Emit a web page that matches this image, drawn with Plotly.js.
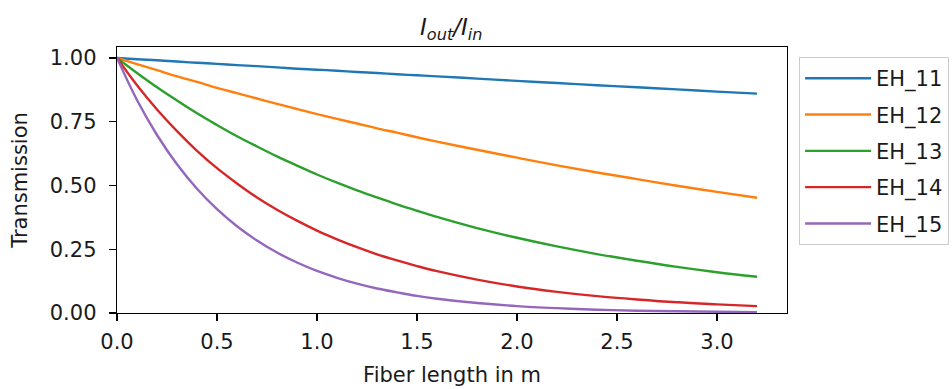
<!DOCTYPE html>
<html>
<head>
<meta charset="utf-8">
<script src="https://cdn.plot.ly/plotly-3.0.1.min.js"></script>
<style>
  html, body { margin: 0; padding: 0; background: #ffffff; }
  #chart { width: 952px; height: 389px; }
</style>
</head>
<body>
<div id="chart"></div>
<script>
// Fiber length (m) at which transmission was sampled
const fiberLength = [0.0, 0.1, 0.2, 0.3, 0.4, 0.5, 0.6, 0.7, 0.8, 0.9, 1.0, 1.1, 1.2, 1.3, 1.4, 1.5, 1.6,
                     1.8, 2.0, 2.2, 2.4, 2.6, 2.8, 3.0, 3.2];

// Transmission I_out/I_in for each hybrid mode
const modeNames = ["EH_11", "EH_12", "EH_13", "EH_14", "EH_15"];
const eh11 = [1.000, 0.995, 0.991, 0.986, 0.981, 0.977, 0.972, 0.968, 0.963, 0.958, 0.954, 0.950, 0.945, 0.941, 0.936, 0.932, 0.928,
              0.919, 0.910, 0.902, 0.893, 0.885, 0.877, 0.868, 0.860];
const eh12 = [1.000, 0.976, 0.952, 0.928, 0.906, 0.883, 0.862, 0.841, 0.820, 0.800, 0.780, 0.761, 0.743, 0.724, 0.707, 0.689, 0.672,
              0.640, 0.609, 0.579, 0.551, 0.525, 0.499, 0.475, 0.452];
const eh13 = [1.000, 0.941, 0.885, 0.833, 0.783, 0.737, 0.693, 0.653, 0.614, 0.578, 0.543, 0.511, 0.481, 0.453, 0.426, 0.401, 0.377,
              0.333, 0.295, 0.261, 0.231, 0.205, 0.181, 0.160, 0.142];
const eh14 = [1.000, 0.893, 0.798, 0.713, 0.636, 0.568, 0.508, 0.453, 0.405, 0.362, 0.323, 0.289, 0.258, 0.230, 0.206, 0.184, 0.164,
              0.131, 0.104, 0.083, 0.066, 0.053, 0.042, 0.034, 0.027];
const eh15 = [1.000, 0.835, 0.698, 0.583, 0.487, 0.407, 0.340, 0.284, 0.237, 0.198, 0.165, 0.138, 0.115, 0.096, 0.081, 0.067, 0.056,
              0.039, 0.027, 0.019, 0.013, 0.009, 0.007, 0.005, 0.003];

const xTicks = [0, 0.5, 1.0, 1.5, 2.0, 2.5, 3.0];
const yTicks = [0, 0.25, 0.5, 0.75, 1.0];

const modeColors = ["#1f77b4", "#ff7f0e", "#2ca02c", "#d62728", "#9467bd"];
const series = [eh11, eh12, eh13, eh14, eh15];

const FONT = "DejaVu Sans, Liberation Sans, sans-serif";
const INK = "#1a1a1a";

const traces = series.map((ys, i) => ({
  type: "scatter",
  mode: "lines",
  x: fiberLength,
  y: ys,
  name: modeNames[i],
  legendgroup: modeNames[i],
  line: { color: modeColors[i], width: 2.4, shape: "spline", smoothing: 1 },
  hoverinfo: "x+y+name"
}));

const axisCommon = {
  showgrid: false,
  zeroline: false,
  showline: true,
  mirror: true,
  linecolor: "#000000",
  linewidth: 1.3,
  ticks: "outside",
  ticklen: 7,
  tickwidth: 1.3,
  tickcolor: "#000000",
  tickfont: { family: FONT, size: 21, color: INK }
};

const layout = {
  width: 952,
  height: 389,
  paper_bgcolor: "#ffffff",
  plot_bgcolor: "#ffffff",
  margin: { l: 117, r: 165, t: 47, b: 76, autoexpand: false },
  font: { family: FONT, color: INK },
  title: {
    text: "<i>I<sub>out</sub>/I<sub>in</sub></i>",
    font: { family: FONT, size: 23, color: INK },
    x: 0.474,
    xanchor: "center",
    y: 0.93,
    yanchor: "middle"
  },
  xaxis: Object.assign({}, axisCommon, {
    range: [0, 3.35],
    tickvals: xTicks,
    tickformat: ".1f",
    ticklabelstandoff: 2,
    title: { text: "Fiber length in m", font: { family: FONT, size: 21, color: INK }, standoff: 14 }
  }),
  yaxis: Object.assign({}, axisCommon, {
    range: [0, 1.043],
    tickvals: yTicks,
    tickformat: ".2f",
    ticklabelstandoff: 8,
    title: { text: "Transmission", font: { family: FONT, size: 21, color: INK }, standoff: 16 }
  }),
  showlegend: true,
  legend: {
    x: 1.018,
    xanchor: "left",
    y: 0.962,
    yanchor: "top",
    bgcolor: "rgba(255,255,255,0.8)",
    bordercolor: "#cccccc",
    borderwidth: 1,
    font: { family: FONT, size: 21, color: INK },
    tracegroupgap: 6,
    itemwidth: 66
  }
};

Plotly.newPlot("chart", traces, layout, { displayModeBar: false, staticPlot: true });
</script>
</body>
</html>
